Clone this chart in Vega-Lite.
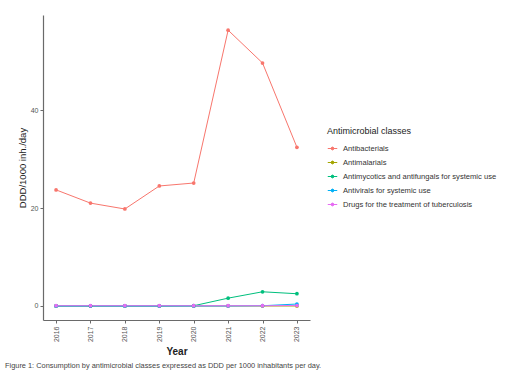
{
  "$schema": "https://vega.github.io/schema/vega-lite/v6.json",
  "width": 267,
  "height": 305,
  "autosize": {"type": "none"},
  "padding": {"left": 43, "top": 15, "right": 202, "bottom": 50},
  "background": "white",
  "config": {
    "font": "Liberation Sans",
    "view": {"stroke": null},
    "axis": {
      "grid": false,
      "domainColor": "#6a6a6a",
      "domainWidth": 1.2,
      "tickColor": "#6a6a6a",
      "tickSize": 3,
      "labelColor": "#555555",
      "labelFontSize": 7,
      "titleColor": "#222222",
      "titleFontWeight": "normal"
    }
  },
  "title": {
    "text": "Figure 1: Consumption by antimicrobial classes expressed as DDD per 1000 inhabitants per day.",
    "orient": "bottom",
    "anchor": "start",
    "frame": "group",
    "dx": -38,
    "offset": 5,
    "fontSize": 7.4,
    "fontWeight": "normal",
    "color": "#444444"
  },
  "data": {
    "values": [
      {"Year": "2016", "Class": "Antibacterials", "DDD": 23.7},
      {"Year": "2017", "Class": "Antibacterials", "DDD": 21.0},
      {"Year": "2018", "Class": "Antibacterials", "DDD": 19.8},
      {"Year": "2019", "Class": "Antibacterials", "DDD": 24.5},
      {"Year": "2020", "Class": "Antibacterials", "DDD": 25.1},
      {"Year": "2021", "Class": "Antibacterials", "DDD": 56.3},
      {"Year": "2022", "Class": "Antibacterials", "DDD": 49.6},
      {"Year": "2023", "Class": "Antibacterials", "DDD": 32.4},
      {"Year": "2016", "Class": "Antimalarials", "DDD": 0.0},
      {"Year": "2017", "Class": "Antimalarials", "DDD": 0.0},
      {"Year": "2018", "Class": "Antimalarials", "DDD": 0.0},
      {"Year": "2019", "Class": "Antimalarials", "DDD": 0.0},
      {"Year": "2020", "Class": "Antimalarials", "DDD": 0.0},
      {"Year": "2021", "Class": "Antimalarials", "DDD": 0.0},
      {"Year": "2022", "Class": "Antimalarials", "DDD": 0.0},
      {"Year": "2023", "Class": "Antimalarials", "DDD": 0.0},
      {"Year": "2016", "Class": "Antimycotics and antifungals for systemic use", "DDD": 0.0},
      {"Year": "2017", "Class": "Antimycotics and antifungals for systemic use", "DDD": 0.0},
      {"Year": "2018", "Class": "Antimycotics and antifungals for systemic use", "DDD": 0.0},
      {"Year": "2019", "Class": "Antimycotics and antifungals for systemic use", "DDD": 0.0},
      {"Year": "2020", "Class": "Antimycotics and antifungals for systemic use", "DDD": 0.05},
      {"Year": "2021", "Class": "Antimycotics and antifungals for systemic use", "DDD": 1.6},
      {"Year": "2022", "Class": "Antimycotics and antifungals for systemic use", "DDD": 2.9},
      {"Year": "2023", "Class": "Antimycotics and antifungals for systemic use", "DDD": 2.5},
      {"Year": "2016", "Class": "Antivirals for systemic use", "DDD": 0.0},
      {"Year": "2017", "Class": "Antivirals for systemic use", "DDD": 0.0},
      {"Year": "2018", "Class": "Antivirals for systemic use", "DDD": 0.0},
      {"Year": "2019", "Class": "Antivirals for systemic use", "DDD": 0.0},
      {"Year": "2020", "Class": "Antivirals for systemic use", "DDD": 0.0},
      {"Year": "2021", "Class": "Antivirals for systemic use", "DDD": 0.0},
      {"Year": "2022", "Class": "Antivirals for systemic use", "DDD": 0.05},
      {"Year": "2023", "Class": "Antivirals for systemic use", "DDD": 0.4},
      {"Year": "2016", "Class": "Drugs for the treatment of tuberculosis", "DDD": 0.05},
      {"Year": "2017", "Class": "Drugs for the treatment of tuberculosis", "DDD": 0.05},
      {"Year": "2018", "Class": "Drugs for the treatment of tuberculosis", "DDD": 0.05},
      {"Year": "2019", "Class": "Drugs for the treatment of tuberculosis", "DDD": 0.05},
      {"Year": "2020", "Class": "Drugs for the treatment of tuberculosis", "DDD": 0.05},
      {"Year": "2021", "Class": "Drugs for the treatment of tuberculosis", "DDD": 0.05},
      {"Year": "2022", "Class": "Drugs for the treatment of tuberculosis", "DDD": 0.05},
      {"Year": "2023", "Class": "Drugs for the treatment of tuberculosis", "DDD": 0.1}
    ]
  },
  "encoding": {
    "x": {
      "field": "Year",
      "type": "ordinal",
      "scale": {"type": "point", "padding": 0.38},
      "axis": {"title": "Year", "labelAngle": 270, "labelPadding": 3, "titleFontSize": 10, "titleFontWeight": "bold", "titlePadding": 5}
    },
    "y": {
      "field": "DDD",
      "type": "quantitative",
      "scale": {"domain": [-2.86, 59.4], "nice": false, "zero": false},
      "axis": {"title": "DDD/1000 inh./day", "values": [0, 20, 40], "titleFontSize": 9.5, "titlePadding": 3}
    },
    "color": {
      "field": "Class",
      "type": "nominal",
      "scale": {
        "domain": ["Antibacterials", "Antimalarials", "Antimycotics and antifungals for systemic use", "Antivirals for systemic use", "Drugs for the treatment of tuberculosis"],
        "range": ["#F8766D", "#A3A500", "#00BF7D", "#00B0F6", "#E76BF3"]
      },
      "legend": {
        "title": "Antimicrobial classes",
        "orient": "none",
        "legendX": 284,
        "legendY": 112,
        "titleFontSize": 9,
        "titleFontWeight": "normal",
        "titleColor": "#222222",
        "titlePadding": 7,
        "labelFontSize": 7.6,
        "labelColor": "#333333",
        "labelOffset": 5,
        "rowPadding": 4,
        "symbolType": "M-1,0L1,0M-0.3,0a0.3,0.3 0 1,0 0.6,0a0.3,0.3 0 1,0 -0.6,0",
        "symbolSize": 90,
        "symbolStrokeWidth": 1
      }
    }
  },
  "layer": [
    {"mark": {"type": "line", "strokeWidth": 1}},
    {"mark": {"type": "circle", "size": 14, "opacity": 1}}
  ]
}
